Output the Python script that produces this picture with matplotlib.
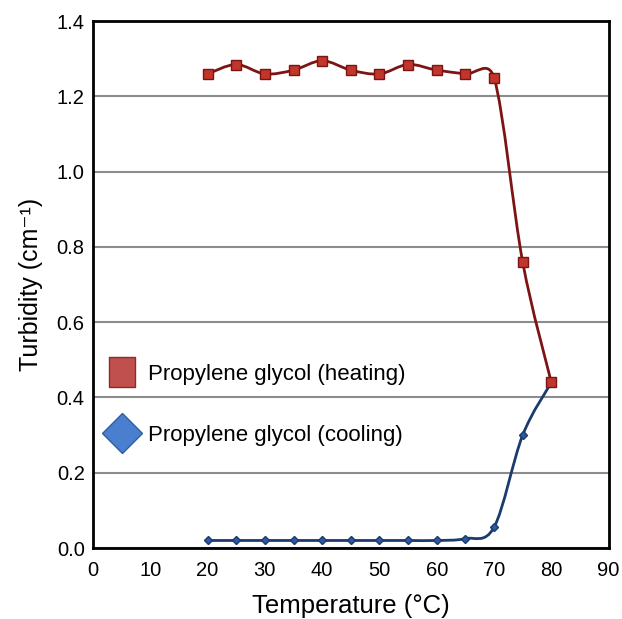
import numpy as np
import matplotlib
matplotlib.use("Agg")
import matplotlib.pyplot as plt
from matplotlib.path import Path
from matplotlib.patches import PathPatch
from matplotlib.lines import Line2D

plt.rcParams['font.family'] = ['Liberation Sans', 'DejaVu Sans']

# data
temperature = [20, 25, 30, 35, 40, 45, 50, 55, 60, 65, 70, 75, 80]
heating = [1.26, 1.285, 1.26, 1.27, 1.295, 1.27, 1.26, 1.285, 1.27, 1.26, 1.25, 0.76, 0.44]
cooling = [0.02, 0.02, 0.02, 0.02, 0.02, 0.02, 0.02, 0.02, 0.02, 0.025, 0.055, 0.30, 0.44]
labels = ['Propylene glycol (heating)', 'Propylene glycol (cooling)']

XMAX, YMAX = 90, 1.4


# excel-like smoothed line: bezier segments through the points,
# tangents worked out in screen-ish units and clamped on short segments
def smooth_path(x, y, sx, sy, clamp=0.7):
    pts = np.column_stack([np.asarray(x) * sx, np.asarray(y) * sy]).astype(float)
    n = len(pts)
    verts = [pts[0]]
    codes = [Path.MOVETO]
    for i in range(n - 1):
        p0 = pts[max(i - 1, 0)]
        p1 = pts[i]
        p2 = pts[i + 1]
        p3 = pts[min(i + 2, n - 1)]
        seg = np.linalg.norm(p2 - p1)
        t1 = (p2 - p0) / 6.0
        t2 = (p3 - p1) / 6.0
        for t in (t1, t2):
            L = np.linalg.norm(t)
            if L > clamp * seg:
                t *= clamp * seg / L
        verts += [p1 + t1, p2 - t2, p2]
        codes += [Path.CURVE4] * 3
    verts = np.array(verts) / [sx, sy]
    return Path(verts, codes)


fig = plt.figure(figsize=(6.22, 6.19), dpi=100)
ax = fig.add_axes([0.1495, 0.1147, 0.829, 0.851])
sx = 0.829 * 622 / XMAX
sy = 0.851 * 619 / YMAX

ax.set_xlim(0, XMAX)
ax.set_ylim(0, YMAX)
ax.set_xticks(np.arange(0, 91, 10))
ax.set_yticks(np.arange(0, 1.41, 0.2))
ax.set_yticklabels(['%.1f' % v for v in np.arange(0, 1.41, 0.2)])
ax.grid(axis='y', color='#8c8c8c', lw=1.5)
ax.set_axisbelow(True)
ax.tick_params(length=0, labelsize=14.5)
ax.tick_params(axis='y', pad=6)
ax.tick_params(axis='x', pad=9)
for s in ax.spines.values():
    s.set_linewidth(2)
    s.set_color('black')

# cooling
ax.add_patch(PathPatch(smooth_path(temperature, cooling, sx, sy), fill=False,
                       ec='#1b3a6e', lw=2, zorder=3))
ax.plot(temperature, cooling, ls='none', marker='D', ms=4.5,
        mfc='#2b5b9c', mec='#1b3a6e', zorder=4)

# heating
ax.add_patch(PathPatch(smooth_path(temperature, heating, sx, sy), fill=False,
                       ec='#7d1414', lw=2, zorder=3))
ax.plot(temperature, heating, ls='none', marker='s', ms=6.5,
        mfc='#c0362c', mec='#7d1414', zorder=5)

ax.set_xlabel('Temperature (°C)', fontsize=18.5)
ax.set_ylabel('Turbidity (cm⁻¹)', fontsize=18)
ax.xaxis.set_label_coords(0.5, -0.088)
ax.yaxis.set_label_coords(-0.097, 0.5)

tall_square = [(-0.42, -0.5), (0.42, -0.5), (0.42, 0.5), (-0.42, 0.5), (-0.42, -0.5)]
handles = [
    Line2D([], [], ls='none', marker=tall_square, ms=22, mfc='#c0504d', mec='#8e2a28', mew=1),
    Line2D([], [], ls='none', marker='D', ms=20, mfc='#4a7fcf', mec='#2f5f9f', mew=1),
]
ax.legend(handles, labels, loc='upper left', bbox_to_anchor=(-0.0045, 0.366),
          frameon=False, fontsize=16, labelspacing=1.8, handlelength=2.0,
          handletextpad=0.2, borderaxespad=0)

fig.savefig('out.png', dpi=100)
